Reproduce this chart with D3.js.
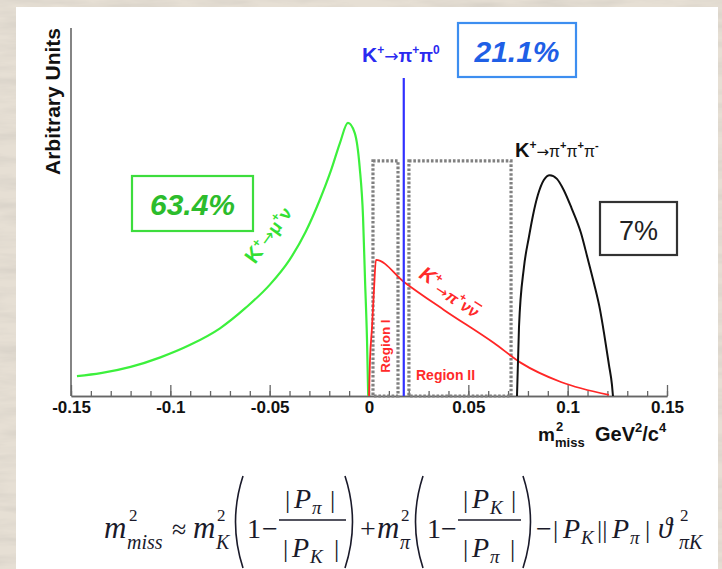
<!DOCTYPE html>
<html>
<head>
<meta charset="utf-8">
<script src="https://cdn.jsdelivr.net/npm/d3@7"></script>
<style>
  body { margin: 0; background: #e2dacf; }
  svg { display: block; font-family: "Liberation Sans", Arial, sans-serif; }
</style>
</head>
<body>
<div id="chart"></div>
<script>
// x axis ticks and labels (m2 miss, GeV^2/c^4)
var majorTicks = [-0.15, -0.1, -0.05, 0, 0.05, 0.1, 0.15];
var tickLabels = ["-0.15", "-0.1", "-0.05", "0", "0.05", "0.1", "0.15"];

// K+ -> mu+ nu  (m2 miss, arbitrary units)
var kmu2 = [
  [-0.147, 0.054], [-0.135, 0.062], [-0.12, 0.079], [-0.105, 0.105],
  [-0.09, 0.139], [-0.075, 0.184], [-0.062, 0.240], [-0.05, 0.302],
  [-0.04, 0.370], [-0.032, 0.445], [-0.025, 0.53], [-0.019, 0.615],
  [-0.0146, 0.688], [-0.0106, 0.742], [-0.0072, 0.715], [-0.0047, 0.622],
  [-0.003, 0.486], [-0.002, 0.315], [-0.001, 0.152], [-0.0004, 0]
];

// K+ -> pi+ nu nubar
var pinn = [
  [0, 0], [0.0005, 0.098], [0.0015, 0.185], [0.0025, 0.288], [0.0035, 0.37],
  [0.0176, 0.31], [0.0377, 0.234], [0.0629, 0.144], [0.0765, 0.09],
  [0.0966, 0.038], [0.1208, 0.003]
];

// K+ -> pi+ pi+ pi-
var k3pi = [
  [0.0745, 0], [0.0755, 0.1875], [0.078, 0.35], [0.0805, 0.432], [0.0825, 0.49],
  [0.085, 0.546], [0.088, 0.587], [0.091, 0.60], [0.0946, 0.59], [0.098, 0.56],
  [0.102, 0.51], [0.1067, 0.443], [0.110, 0.375], [0.1132, 0.307],
  [0.1163, 0.234], [0.1183, 0.171], [0.1208, 0.084], [0.1223, 0.03], [0.1228, 0]
];

// K+ -> pi+ pi0 peak
var kpi2Mass = 0.0175;
var kpi2Height = 0.864;

// signal regions
var regionI = [0.002, 0.0146];
var regionII = [0.0201, 0.0715];
var regionTop = 0.639;

// branching fractions
var fractions = ["63.4%", "21.1%", "7%"];

var width = 722;
var height = 569;

var svg = d3.select("#chart").append("svg").attr("width", width).attr("height", height);

// marble looking background behind the slide
var defs = svg.append("defs");
var marble = defs.append("filter").attr("id", "marble")
    .attr("x", 0).attr("y", 0).attr("width", "100%").attr("height", "100%");
marble.append("feTurbulence").attr("type", "fractalNoise")
    .attr("baseFrequency", "0.015 0.09").attr("numOctaves", 4).attr("seed", 7);
marble.append("feColorMatrix").attr("type", "matrix")
    .attr("values", "0 0 0 0 0.66  0 0 0 0 0.62  0 0 0 0 0.56  1.6 0 0 0 -0.62");

svg.append("rect").attr("width", width).attr("height", height).attr("fill", "#e6dfd4");
svg.append("rect").attr("width", width).attr("height", height).attr("filter", "url(#marble)");
svg.append("rect").attr("x", 16).attr("y", 7).attr("width", 702).attr("height", 570).attr("fill", "#fff");

var x = d3.scaleLinear().domain([-0.15, 0.15]).range([71, 667]);
var y = d3.scaleLinear().domain([0, 1]).range([396, 28]);

// minor ticks every 0.01
var minorAxis = svg.append("g")
    .attr("transform", "translate(0," + y(0) + ")")
    .call(d3.axisBottom(x).ticks(30).tickSize(-5).tickSizeOuter(0).tickFormat(""));

var majorAxis = svg.append("g")
    .attr("transform", "translate(0," + y(0) + ")")
    .call(d3.axisBottom(x).tickValues(majorTicks).tickSize(-11).tickSizeOuter(0).tickPadding(5)
      .tickFormat(function(d, i) { return tickLabels[i]; }));

svg.selectAll(".domain").attr("stroke", "#666").attr("stroke-width", 1.6);
svg.selectAll(".tick line").attr("stroke", "#666").attr("stroke-width", 1.3);
majorAxis.selectAll("text")
    .attr("font-family", "'Liberation Sans', Arial, sans-serif")
    .attr("font-size", 17).attr("font-weight", "bold").attr("fill", "#111");

// y axis is just a line
svg.append("line")
    .attr("x1", x(-0.15)).attr("x2", x(-0.15))
    .attr("y1", y(1)).attr("y2", y(0))
    .attr("stroke", "#666").attr("stroke-width", 1.6);

svg.append("text")
    .attr("transform", "translate(60," + y(1) + ") rotate(-90)")
    .attr("text-anchor", "end")
    .attr("font-size", 21).attr("font-weight", "bold").attr("fill", "#111")
    .text("Arbitrary Units");

// x axis title  m2miss GeV2/c4
var xt = svg.append("text").attr("font-weight", "bold").attr("fill", "#111");
xt.append("tspan").attr("x", 538).attr("y", 441).attr("font-size", 19).text("m");
xt.append("tspan").attr("x", 556).attr("y", 431).attr("font-size", 13).text("2");
xt.append("tspan").attr("x", 555).attr("y", 447).attr("font-size", 13).text("miss");
xt.append("tspan").attr("x", 595).attr("y", 441).attr("font-size", 20).text("GeV");
xt.append("tspan").attr("y", 432).attr("font-size", 13).text("2");
xt.append("tspan").attr("y", 441).attr("font-size", 20).text("/c");
xt.append("tspan").attr("y", 432).attr("font-size", 13).text("4");

// dotted signal region boxes
[regionI, regionII].forEach(function(r) {
  svg.append("rect")
      .attr("x", x(r[0])).attr("y", y(regionTop))
      .attr("width", x(r[1]) - x(r[0])).attr("height", y(0) - y(regionTop))
      .attr("fill", "none").attr("stroke", "#808080")
      .attr("stroke-width", 3.2).attr("stroke-dasharray", "2.6,1.8");
});

var line = d3.line()
    .x(function(d) { return x(d[0]); })
    .y(function(d) { return y(d[1]); })
    .curve(d3.curveMonotoneX);

svg.append("path").datum(kmu2).attr("d", line)
    .attr("fill", "none").attr("stroke", "#3cf03c").attr("stroke-width", 2.2);
svg.append("path").datum(pinn).attr("d", line)
    .attr("fill", "none").attr("stroke", "#ff2626").attr("stroke-width", 1.8);
svg.append("path").datum(k3pi).attr("d", line)
    .attr("fill", "none").attr("stroke", "#111").attr("stroke-width", 2);

svg.append("line")
    .attr("x1", x(kpi2Mass)).attr("x2", x(kpi2Mass))
    .attr("y1", y(kpi2Height)).attr("y2", y(0))
    .attr("stroke", "#3030ff").attr("stroke-width", 2.2);

// decay labels with super scripts
function decayLabel(sel, parts) {
  var prev = 0;
  parts.forEach(function(p) {
    var off = p[2] || 0;
    var t = sel.append("tspan")
        .attr("font-size", p[1])
        .attr("font-weight", p[3] || "bold")
        .attr("dy", off - prev)
        .text(p[0]);
    if (p[0] == "\u2192") t.attr("font-family", "'DejaVu Sans', sans-serif").attr("font-weight", "normal");
    if (p[4]) t.attr("text-decoration", "overline");
    prev = off;
  });
}

decayLabel(svg.append("text").attr("x", 362).attr("y", 62).attr("fill", "#2a2af0"), [
  ["K", 21], ["+", 12, -8], ["\u2192", 17], ["\u03c0", 18], ["+", 12, -8], ["\u03c0", 18], ["0", 12, -8]
]);

decayLabel(svg.append("text").attr("x", 515).attr("y", 157).attr("fill", "#111"), [
  ["K", 20], ["+", 12, -8], ["\u2192", 15], ["\u03c0", 16, 0, "normal"], ["+", 11, -8],
  ["\u03c0", 16, 0, "normal"], ["+", 11, -8], ["\u03c0", 16, 0, "normal"], ["-", 11, -8]
]);

decayLabel(svg.append("text").attr("transform", "translate(255,265) rotate(-54)").attr("fill", "#33e033"), [
  ["K", 21], ["+", 12, -8], ["\u2192", 17], ["\u03bc", 18], ["+", 12, -8], ["\u03bd", 18]
]);

decayLabel(svg.append("text").attr("transform", "translate(418,277) rotate(33)")
    .attr("fill", "#ff2a2a").attr("font-style", "italic"), [
  ["K", 20], ["+", 12, -7], ["\u2192", 15, 4], ["\u03c0", 16, 4], ["+", 11, -4],
  ["\u03bd", 16, 4], ["\u03bd", 16, 4, "bold", true]
]);

svg.append("text")
    .attr("transform", "translate(390,346) rotate(-90)")
    .attr("text-anchor", "middle")
    .attr("font-size", 13.5).attr("font-weight", "bold").attr("fill", "#ff2a2a")
    .text("Region I");

svg.append("text")
    .attr("x", 416).attr("y", 380)
    .attr("font-size", 14).attr("font-weight", "bold").attr("fill", "#ff2a2a")
    .text("Region II");

// branching fraction boxes
var boxes = [
  {x: 132, y: 176, w: 121, h: 55, base: 215, size: 30, col: "#2cbc2c", edge: "#3ddd3d", italic: true},
  {x: 458, y: 23, w: 118, h: 54, base: 62, size: 30, col: "#1f5fe6", edge: "#3d8ef0", italic: true},
  {x: 600, y: 202, w: 77, h: 53, base: 240, size: 27, col: "#222", edge: "#333", italic: false}
];
boxes.forEach(function(b, i) {
  svg.append("rect")
      .attr("x", b.x).attr("y", b.y).attr("width", b.w).attr("height", b.h)
      .attr("fill", "#fff").attr("stroke", b.edge).attr("stroke-width", 2.2);
  svg.append("text")
      .attr("x", b.x + b.w / 2).attr("y", b.base)
      .attr("text-anchor", "middle")
      .attr("font-size", b.size)
      .attr("font-weight", b.italic ? "bold" : "normal")
      .attr("font-style", b.italic ? "italic" : "normal")
      .attr("fill", b.col)
      .text(fractions[i]);
});

// formula under the plot
var fm = svg.append("g")
    .attr("font-family", "'Liberation Serif', 'Times New Roman', serif")
    .attr("fill", "#1a1a2a");

function ft(px, py, s, size, italic) {
  fm.append("text").attr("x", px).attr("y", py)
      .attr("font-size", size)
      .attr("font-style", italic ? "italic" : "normal")
      .text(s);
}

function paren(px, left) {
  var d = left
    ? "M" + (px + 7) + ",476 Q" + (px - 8) + ",522 " + (px + 7) + ",568"
    : "M" + (px - 7) + ",476 Q" + (px + 8) + ",522 " + (px - 7) + ",568";
  fm.append("path").attr("d", d).attr("fill", "none").attr("stroke", "#1a1a2a").attr("stroke-width", 1.6);
}

function bar(x1, x2) {
  fm.append("line").attr("x1", x1).attr("x2", x2).attr("y1", 520).attr("y2", 520)
      .attr("stroke", "#1a1a2a").attr("stroke-width", 1.3);
}

var base = 538;
ft(104, base, "m", 31, true);
ft(129, 521, "2", 17);
ft(127, 549, "miss", 20, true);
ft(172, base, "\u2248", 26);
ft(193, base, "m", 31, true);
ft(217, 521, "2", 17);
ft(216, 549, "K", 20, true);
paren(236, true);
ft(247, base, "1", 28);
ft(262, base, "\u2212", 28);
bar(279, 346);
ft(285, 508, "|", 26); ft(294, 508, "P", 28, true); ft(312, 514, "\u03c0", 19, true); ft(330, 508, "|", 26);
ft(283, 557, "|", 26); ft(292, 557, "P", 28, true); ft(310, 563, "K", 19, true); ft(334, 557, "|", 26);
paren(352, false);
ft(360, base, "+", 28);
ft(377, base, "m", 31, true);
ft(401, 521, "2", 17);
ft(400, 549, "\u03c0", 20, true);
paren(416, true);
ft(427, base, "1", 28);
ft(441, base, "\u2212", 28);
bar(458, 521);
ft(463, 508, "|", 26); ft(472, 508, "P", 28, true); ft(490, 514, "K", 19, true); ft(511, 508, "|", 26);
ft(463, 557, "|", 26); ft(472, 557, "P", 28, true); ft(490, 563, "\u03c0", 19, true); ft(510, 557, "|", 26);
paren(530, false);
ft(536, base, "\u2212", 28);
ft(553, base, "|", 26); ft(563, base, "P", 28, true); ft(581, 544, "K", 19, true);
ft(597, base, "||", 26); ft(612, base, "P", 28, true); ft(630, 544, "\u03c0", 19, true); ft(645, base, "|", 26);
ft(658, base, "\u03d1", 29, true);
ft(680, 521, "2", 17);
ft(679, 549, "\u03c0K", 20, true);
</script>
</body>
</html>
